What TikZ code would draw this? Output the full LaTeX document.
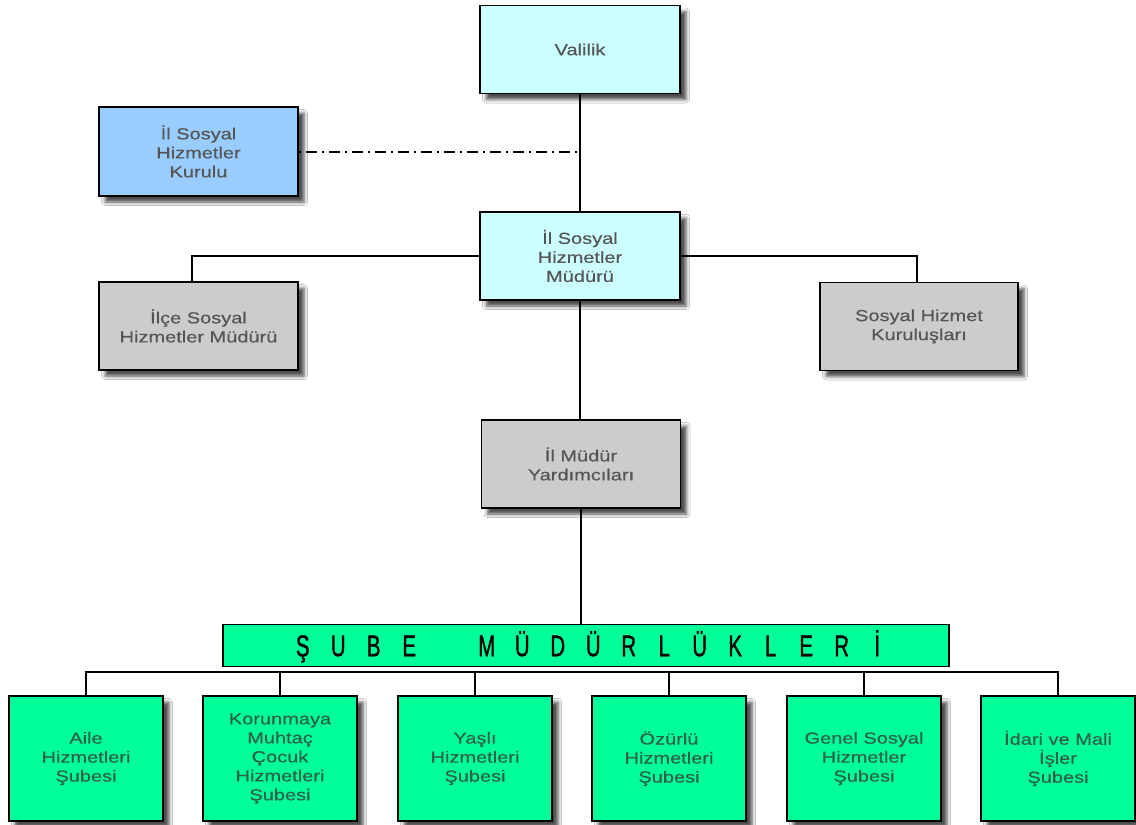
\documentclass[tikz,border=0pt]{standalone}
\usepackage{fontspec}
\setmainfont{Liberation Sans}
\newfontfamily\boxfont[FakeStretch=1.25,FakeBold=0.4]{Liberation Sans}
\newfontfamily\hdrfont[FakeStretch=0.68,FakeBold=1]{Liberation Sans}
\usetikzlibrary{shadows.blur}
\definecolor{cyanbox}{HTML}{CCFFFF}
\definecolor{bluebox}{HTML}{99CCFF}
\definecolor{graybox}{HTML}{CCCCCC}
\definecolor{greenbox}{HTML}{00FF99}
\definecolor{txtgray}{HTML}{555555}
\definecolor{txtgreen}{HTML}{2B6249}
\tikzset{
  box/.style={draw=black, line width=1.8pt, inner sep=0pt, align=center,
    font=\boxfont\fontsize{16}{19}\selectfont, text=txtgray,
    blur shadow={shadow xshift=6pt, shadow yshift=-6pt, shadow blur radius=3.5pt, shadow opacity=70}},
  topbox/.style={box, minimum width=200pt, minimum height=88pt},
  subbox/.style={box, fill=greenbox, text=txtgreen, minimum width=154pt, minimum height=125pt},
  hdrbox/.style={draw=black, line width=1.8pt, fill=greenbox, inner sep=0pt,
    minimum width=726pt, minimum height=42pt, text height=21.5pt, text depth=0pt,
    font=\hdrfont\fontsize{30}{30}\selectfont},
  link/.style={draw=black, line width=2pt},
}
\newcommand{\hl}[1]{\makebox[35.5pt]{#1}}
\begin{document}
\begin{tikzpicture}[x=1pt, y=-1pt]
\useasboundingbox (0,0) rectangle (1136,825);
\fill[white] (0,0) rectangle (1136,825);

\node[topbox, fill=cyanbox] (val) at (580,49.5) {Valilik};
\node[topbox, fill=bluebox, minimum width=199pt, minimum height=89pt] (kur) at (198.5,151.5) {İl Sosyal\\Hizmetler\\Kurulu};
\node[topbox, fill=cyanbox] (ishm) at (580,256) {İl Sosyal\\Hizmetler\\Müdürü};
\node[topbox, fill=graybox, minimum width=199pt] (ilce) at (198.5,326) {İlçe Sosyal\\Hizmetler Müdürü};
\node[topbox, fill=graybox, minimum width=198pt] (shk) at (919,326.5) {Sosyal Hizmet\\Kuruluşları};
\node[topbox, fill=graybox, minimum width=199pt] (yard) at (581,464) {İl Müdür\\Yardımcıları};

\node[hdrbox] (hdr) at (586,645.5) {\hspace{8pt}\hl{Ş}\hl{U}\hl{B}\hl{E}\hspace{42pt}\hl{M}\hl{Ü}\hl{D}\hl{Ü}\hl{R}\hl{L}\hl{Ü}\hl{K}\hl{L}\hl{E}\hl{R}\hl{İ}};

\node[subbox] (b1) at (86,758.5) {Aile\\Hizmetleri\\Şubesi};
\node[subbox] (b2) at (280,758.5) {Korunmaya\\Muhtaç\\Çocuk\\Hizmetleri\\Şubesi};
\node[subbox] (b3) at (475,758.5) {Yaşlı\\Hizmetleri\\Şubesi};
\node[subbox] (b4) at (669,758.5) {Özürlü\\Hizmetleri\\Şubesi};
\node[subbox] (b5) at (864,758.5) {Genel Sosyal\\Hizmetler\\Şubesi};
\node[subbox] (b6) at (1058,758.5) {İdari ve Mali\\İşler\\Şubesi};

\draw[link] (val.south) -- (val.south |- ishm.north);
\draw[link] (ishm.south) -- (ishm.south |- yard.north);
\draw[link] (yard.south) -- (yard.south |- hdr.north);
\draw[link, dash pattern=on 2pt off 5pt on 11pt off 5pt] (kur.east) -- (kur.east -| val.south);
\draw[link] ([xshift=-7pt]ilce.north) |- (ishm.west);
\draw[link] (ishm.east) -| ([xshift=-2pt]shk.north);
\coordinate (bus) at (0,672);
\draw[link] (b1.north) -- (b1.north |- bus) -- (b6.north |- bus) -- (b6.north);
\foreach \n in {b2,b3,b4,b5} \draw[link] (\n.north) -- (\n.north |- bus);
\end{tikzpicture}
\end{document}
